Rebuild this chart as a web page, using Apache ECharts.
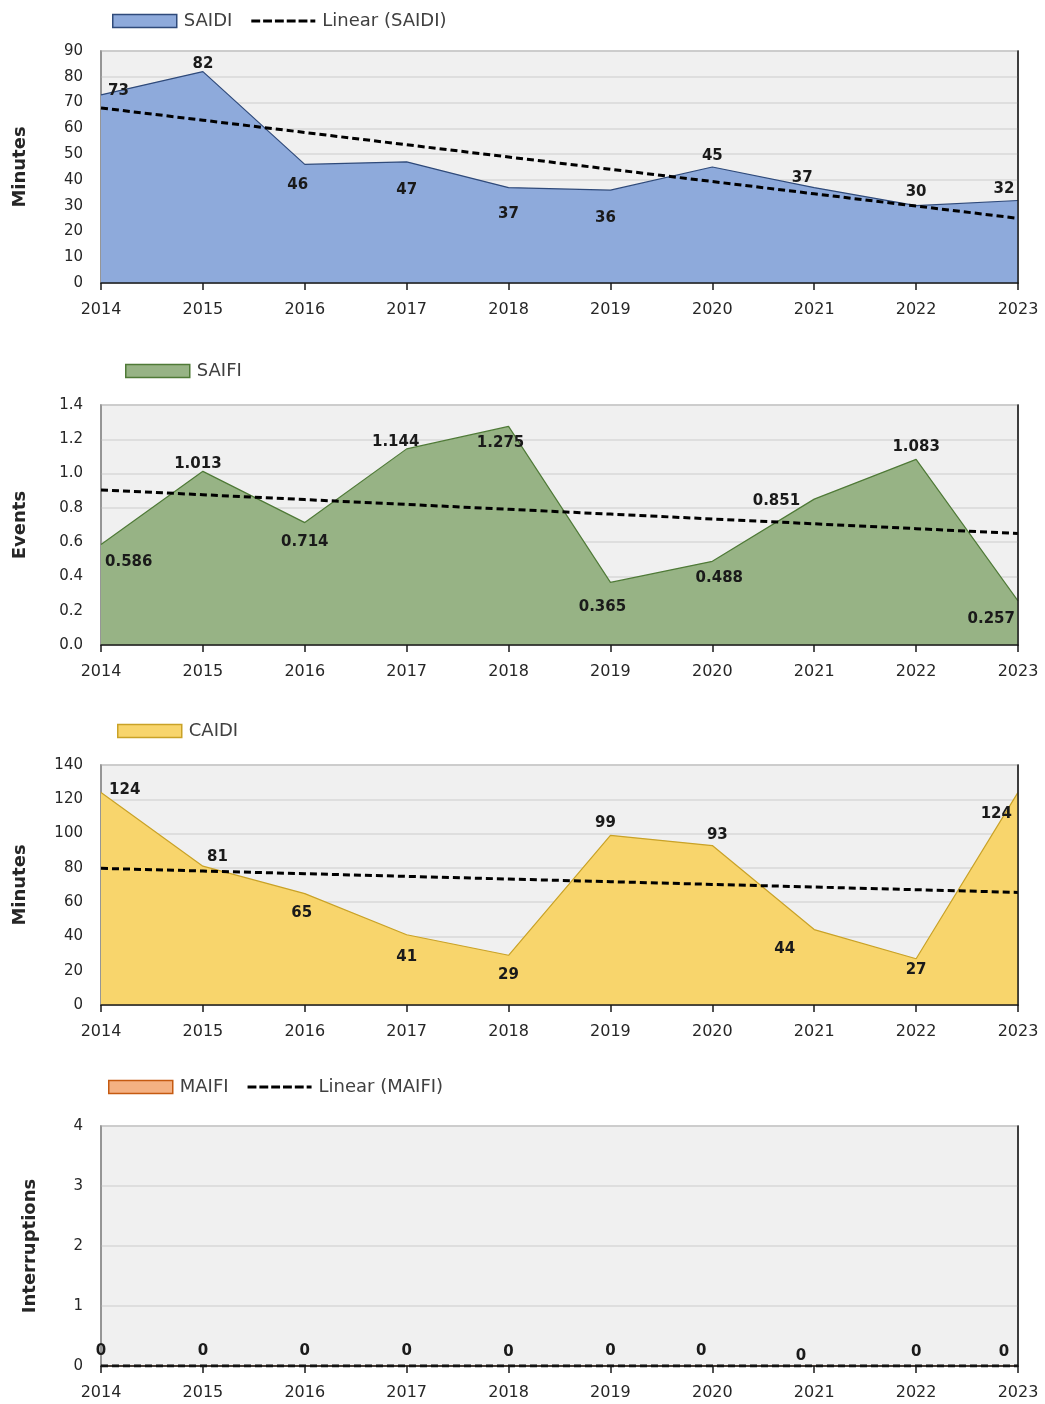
<!DOCTYPE html>
<html>
<head>
<meta charset="utf-8">
<script src="https://cdn.jsdelivr.net/npm/echarts@6/dist/echarts.min.js"></script>
<style>
html,body{margin:0;padding:0;background:#fff;}
#c{width:1045px;height:1404px;}
</style>
</head>
<body>
<div id="c"></div>
<script>
// ---- data ----
const years = ['2014','2015','2016','2017','2018','2019','2020','2021','2022','2023'];
const saidi = [73, 82, 46, 47, 37, 36, 45, 37, 30, 32];
const saifi = [0.586, 1.013, 0.714, 1.144, 1.275, 0.365, 0.488, 0.851, 1.083, 0.257];
const caidi = [124, 81, 65, 41, 29, 99, 93, 44, 27, 124];
const maifi = [0, 0, 0, 0, 0, 0, 0, 0, 0, 0];

// label placements: [position, distance, dx, dy]
const saidiLabelPlace = [['right',7,0,-4],['top',0,0,0],['bottom',13,-7,0],['bottom',21,0,0],['bottom',19,0,0],['bottom',20,-5,0],['top',3,0,0],['top',2,-12,0],['top',6,0,0],['top',4,-14,0]];
const saifiLabelPlace = [['right',4,0,18],['top',0,-5,0],['bottom',12,0,0],['top',-1,-11,0],['bottom',9,-8,0],['bottom',17,-8,0],['bottom',9,7,0],['left',14,0,2],['top',5,0,0],['left',3,0,18]];
const caidiLabelPlace = [['right',8,0,-2],['right',4,0,-9],['bottom',12,-3,0],['bottom',15,0,0],['bottom',12,0,0],['top',5,-5,0],['top',3,5,0],['left',19,0,20],['bottom',4,0,0],['left',6,0,22]];
const maifiLabelPlace = [['top',7,0,0],['top',7,0,0],['top',7,0,0],['top',7,0,0],['top',6,0,0],['top',7,0,0],['top',7,-11,0],['left',8,0,-10],['top',6,0,0],['top',6,-14,0]];

const FONT = 'DejaVu Sans';
const DASH_ICON = 'path://M0,0h9v3h-9z M12,0h9v3h-9z M24,0h9v3h-9z M36,0h9v3h-9z M48,0h9v3h-9z M60,0h5v3h-5z';
const chart = echarts.init(document.getElementById('c'), null, {renderer:'canvas'});

function linearFit(vals){
  const n = vals.length;
  let sx=0, sy=0, sxx=0, sxy=0;
  vals.forEach((v,i)=>{sx+=i; sy+=v; sxx+=i*i; sxy+=i*v;});
  const b = (n*sxy - sx*sy)/(n*sxx - sx*sx);
  const a = (sy - b*sx)/n;
  return vals.map((v,i)=>+(a+b*i).toFixed(5));
}

function labeled(vals, places){
  return vals.map((v,i)=>{
    const p = places[i];
    return {value:v, label:{show:true, position:p[0], distance:p[1]}};
  });
}

const panels = [
  {name:'SAIDI', vals:saidi, places:saidiLabelPlace, fill:'#8eaadb', line:'#2f4a7a', top:51, h:232, max:90, interval:10, yName:'Minutes', nameGap:72, legendLeft:107, legendTop:7, showTrendLegend:true, dec:0},
  {name:'SAIFI', vals:saifi, places:saifiLabelPlace, fill:'#97b385', line:'#4f7a37', top:405, h:240, max:1.4, interval:0.2, yName:'Events', nameGap:72, legendLeft:120, legendTop:357, showTrendLegend:false, dec:1},
  {name:'CAIDI', vals:caidi, places:caidiLabelPlace, fill:'#f8d56c', line:'#c9a227', top:765, h:240, max:140, interval:20, yName:'Minutes', nameGap:72, legendLeft:112, legendTop:717, showTrendLegend:false, dec:0},
  {name:'MAIFI', vals:maifi, places:maifiLabelPlace, fill:'#f4b183', line:'#c55a11', top:1126, h:240, max:4, interval:1, yName:'Interruptions', nameGap:62, legendLeft:103, legendTop:1073, showTrendLegend:true, dec:0}
];

const grid=[], xAxis=[], yAxis=[], series=[], legend=[];
panels.forEach((p,k)=>{
  grid.push({left:101, right:27, top:p.top, height:p.h, show:true, backgroundColor:'#f0f0f0', borderColor:'#8f8f8f', borderWidth:1.5});
  xAxis.push({type:'category', gridIndex:k, data:years, boundaryGap:false, z:10,
    axisLine:{show:true, onZero:false, lineStyle:{color:'#1a1a1a', width:1.5}},
    axisTick:{show:true, alignWithLabel:true, length:7, lineStyle:{color:'#1a1a1a', width:1.5}},
    axisLabel:{color:'#262626', fontFamily:FONT, fontSize:16, margin:19},
    splitLine:{show:false}});
  yAxis.push({type:'value', gridIndex:k, min:0, max:p.max, interval:p.interval,
    name:p.yName, nameLocation:'middle', nameGap:p.nameGap, nameRotate:90,
    nameTextStyle:{fontFamily:FONT, fontWeight:'bold', fontSize:18, color:'#262626'},
    axisLine:{show:true, lineStyle:{color:'#8f8f8f', width:1.5}},
    axisTick:{show:false},
    axisLabel:{color:'#262626', fontFamily:FONT, fontSize:15, margin:18,
      formatter: v => p.dec ? v.toFixed(p.dec) : String(v)},
    splitLine:{show:true, lineStyle:{color:'#d9d9d9', width:1.5}}});
  yAxis.push({type:'value', gridIndex:k, min:0, max:p.max, interval:p.interval, position:'right', z:10,
    axisLine:{show:true, lineStyle:{color:'#1a1a1a', width:1.5}}, axisTick:{show:false},
    axisLabel:{show:false}, splitLine:{show:false}});
  const yi = k*2;
  const places = p.places;
  series.push({name:p.name, type:'line', xAxisIndex:k, yAxisIndex:yi, data:labeled(p.vals,places),
    symbol:'circle', symbolSize:0.1, showSymbol:true, z:2,
    lineStyle:{color:p.line, width:1.2}, itemStyle:{color:p.fill, borderColor:p.line, borderWidth:0},
    areaStyle:{color:p.fill, opacity:1},
    label:{show:true, fontFamily:FONT, fontWeight:'bold', fontSize:15, color:'#1a1a1a'},
    labelLayout: function(params){ const q = places[params.dataIndex]; return {dx:q[2], dy:q[3], hideOverlap:false}; }});
  series.push({name:'Linear ('+p.name+')', type:'line', xAxisIndex:k, yAxisIndex:yi, data:linearFit(p.vals),
    symbol:'none', z:3, silent:true,
    lineStyle:{color:'#000', width:3, type:[7,4]}, itemStyle:{color:'#000'}});
  const ld = [{name:p.name, icon:'rect', itemStyle:{color:p.fill, borderColor:p.line, borderWidth:1.5}}];
  if (p.showTrendLegend) ld.push({name:'Linear ('+p.name+')', icon:DASH_ICON, itemStyle:{color:'#000', borderWidth:0}});
  legend.push({left:p.legendLeft, top:p.legendTop, orient:'horizontal', data:ld, itemWidth:64, itemHeight:13, itemGap:19,
    selectedMode:false, textStyle:{fontFamily:FONT, fontSize:18, color:'#404040', padding:[0,0,0,2]}});
});

chart.setOption({animation:false, backgroundColor:'#fff', grid, xAxis, yAxis, series, legend});
</script>
</body>
</html>
